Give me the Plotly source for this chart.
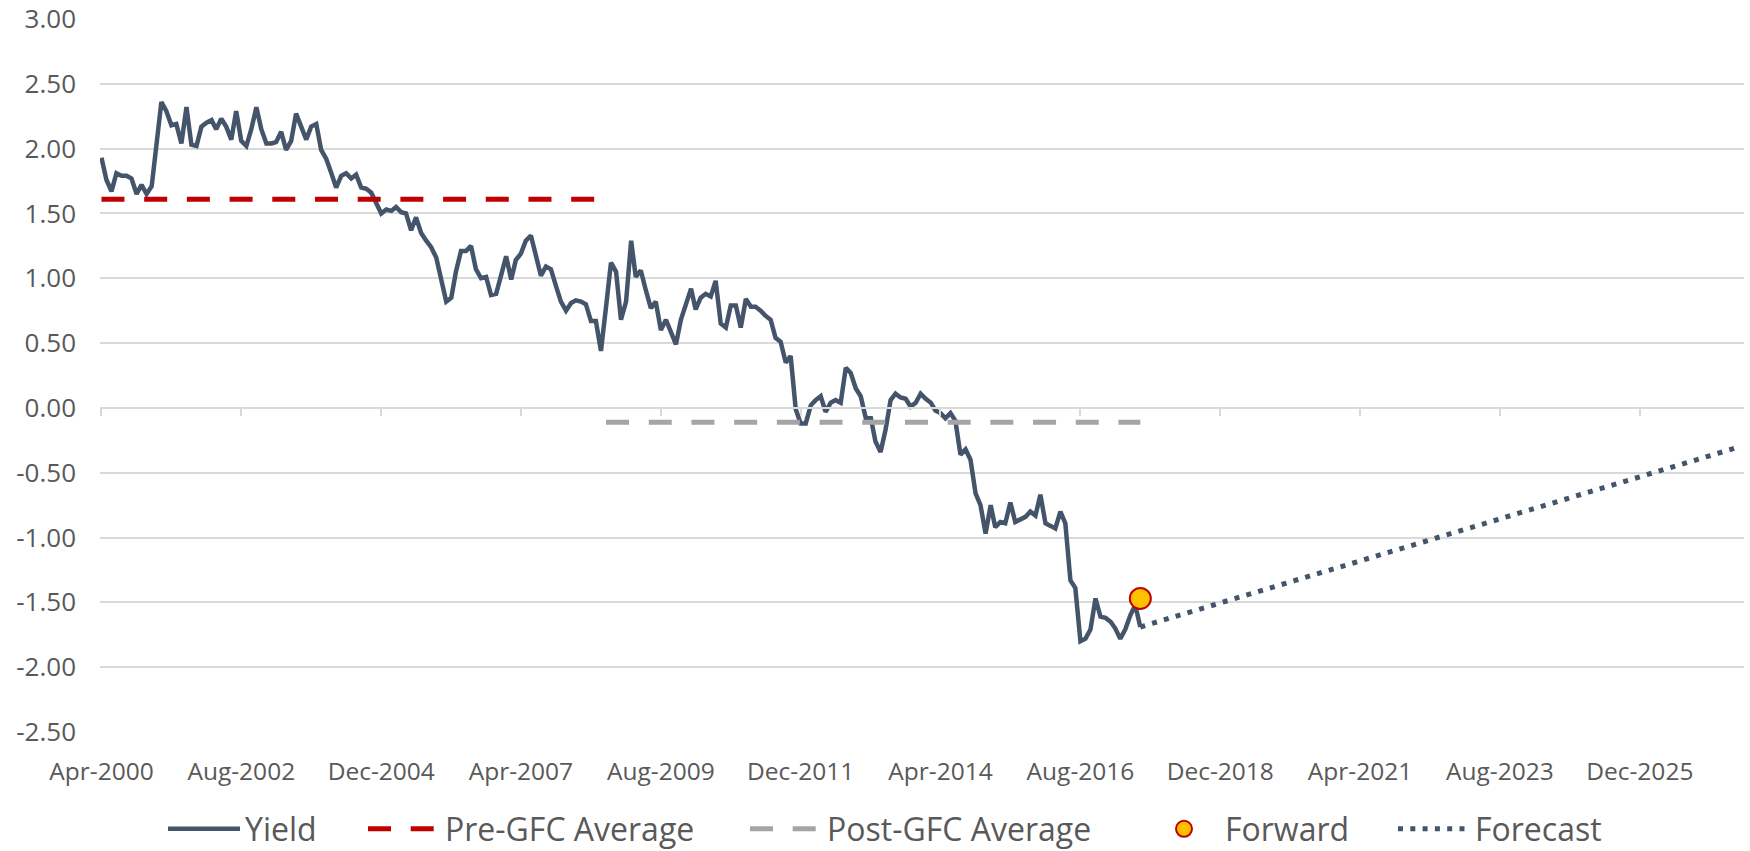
import pandas as pd
import plotly.graph_objects as go

# ---------------- data ----------------
start_month = "2000-04-01"
yield_values = [
    1.93, 1.76, 1.67, 1.81, 1.79, 1.79, 1.77, 1.65, 1.72, 1.65, 1.71, 2.02,
    2.36, 2.29, 2.18, 2.19, 2.04, 2.32, 2.03, 2.02, 2.17, 2.20, 2.22, 2.15,
    2.23, 2.17, 2.07, 2.29, 2.06, 2.02, 2.15, 2.32, 2.15, 2.04, 2.04, 2.05,
    2.13, 1.99, 2.06, 2.27, 2.17, 2.07, 2.17, 2.19, 1.99, 1.92, 1.81, 1.70,
    1.79, 1.81, 1.77, 1.80, 1.70, 1.69, 1.66, 1.58, 1.50, 1.53, 1.52, 1.55,
    1.51, 1.50, 1.37, 1.47, 1.35, 1.29, 1.24, 1.16, 1.01, 0.82, 0.85, 1.05,
    1.21, 1.21, 1.25, 1.07, 1.00, 1.01, 0.87, 0.88, 1.02, 1.17, 0.99, 1.14,
    1.19, 1.29, 1.33, 1.16, 1.02, 1.09, 1.07, 0.94, 0.82, 0.75, 0.81, 0.83,
    0.82, 0.80, 0.67, 0.67, 0.44, 0.78, 1.12, 1.05, 0.68, 0.82, 1.29, 1.01,
    1.06, 0.91, 0.77, 0.82, 0.60, 0.68, 0.58, 0.49, 0.68, 0.81, 0.92, 0.76,
    0.85, 0.88, 0.86, 0.98, 0.65, 0.62, 0.79, 0.79, 0.62, 0.84, 0.78, 0.78,
    0.75, 0.71, 0.68, 0.54, 0.51, 0.35, 0.40, -0.01, -0.12, -0.12, 0.02, 0.06,
    0.09, -0.03, 0.04, 0.06, 0.04, 0.31, 0.27, 0.15, 0.09, -0.08, -0.08, -0.26,
    -0.34, -0.17, 0.06, 0.11, 0.08, 0.07, 0.01, 0.04, 0.11, 0.07, 0.04, -0.02,
    -0.04, -0.08, -0.04, -0.10, -0.36, -0.32, -0.40, -0.66, -0.75, -0.97, -0.75, -0.92,
    -0.88, -0.89, -0.73, -0.88, -0.86, -0.84, -0.80, -0.83, -0.67, -0.89, -0.91, -0.93,
    -0.80, -0.89, -1.33, -1.39, -1.80, -1.78, -1.71, -1.47, -1.61, -1.62, -1.65, -1.70,
    -1.78, -1.71, -1.60, -1.52, -1.69,
]

pre_gfc_period = ["2000-04-01", "2008-08-01"]
pre_gfc_average = [1.61, 1.61]
post_gfc_period = ["2008-09-01", "2017-08-01"]
post_gfc_average = [-0.11, -0.11]

forward_date = ["2017-08-01"]
forward_value = [-1.47]

forecast_dates = ["2017-08-01", "2027-08-01"]
forecast_values = [-1.69, -0.30]

x_range = ["2000-03-23", "2027-08-28"]
x_tick_dates = ["2000-04-01", "2002-08-01", "2004-12-01", "2007-04-01",
                "2009-08-01", "2011-12-01", "2014-04-01", "2016-08-01",
                "2018-12-01", "2021-04-01", "2023-08-01", "2025-12-01"]
x_tick_labels = ["Apr-2000", "Aug-2002", "Dec-2004", "Apr-2007", "Aug-2009",
                 "Dec-2011", "Apr-2014", "Aug-2016", "Dec-2018", "Apr-2021",
                 "Aug-2023", "Dec-2025"]
y_ticks = [3.0, 2.5, 2.0, 1.5, 1.0, 0.5, 0.0, -0.5, -1.0, -1.5, -2.0, -2.5]
y_tick_labels = ["3.00", "2.50", "2.00", "1.50", "1.00", "0.50", "0.00",
                 "-0.50", "-1.00", "-1.50", "-2.00", "-2.50"]

yield_dates = pd.date_range(start_month, periods=len(yield_values), freq="MS")

# ---------------- styles ----------------
NAVY = "#44546A"
RED = "#C00000"
GREY = "#A5A5A5"
GOLD = "#FFC000"
GRID = "#D9D9D9"
TEXT = "#595959"
FONT = "Open Sans, sans-serif"

fig = go.Figure()
fig.add_trace(go.Scatter(x=yield_dates, y=yield_values, mode="lines", name="Yield",
                         legend="legend",
                         line=dict(color=NAVY, width=4.5)))
fig.add_trace(go.Scatter(x=pre_gfc_period, y=pre_gfc_average, mode="lines",
                         name="Pre-GFC Average", legend="legend2",
                         line=dict(color=RED, width=5, dash="23px,19.7px")))
fig.add_trace(go.Scatter(x=post_gfc_period, y=post_gfc_average, mode="lines",
                         name="Post-GFC Average", legend="legend3",
                         line=dict(color=GREY, width=5, dash="23px,19.7px")))
fig.add_trace(go.Scatter(x=forward_date, y=forward_value, mode="markers",
                         name="Forward", legend="legend4",
                         marker=dict(color=GOLD, size=21,
                                     line=dict(color=RED, width=2))))
fig.add_trace(go.Scatter(x=forecast_dates, y=forecast_values, mode="lines",
                         name="Forecast", legend="legend5",
                         line=dict(color=NAVY, width=5, dash="5px,7.3px")))
# empty trace that carries the horizontal axis line drawn at zero
fig.add_trace(go.Scatter(x=[], y=[], xaxis="x2", yaxis="y", showlegend=False,
                         hoverinfo="skip"))


def legend_at(px_left):
    return dict(orientation="h", x=(px_left - 100) / 1644, xanchor="left",
                y=-0.136, yanchor="middle", font=dict(size=32, color=TEXT),
                itemwidth=72, bgcolor="rgba(0,0,0,0)")


fig.update_layout(
    width=1750, height=851,
    margin=dict(l=100, r=6, t=19, b=119, autoexpand=False),
    paper_bgcolor="white", plot_bgcolor="white",
    font=dict(family=FONT, color=TEXT, size=24),
    showlegend=True,
    legend=legend_at(163),
    legend2=legend_at(363),
    legend3=legend_at(745),
    legend4=legend_at(1143),
    legend5=legend_at(1393),
    xaxis=dict(type="date", range=x_range, automargin=False,
               tickvals=x_tick_dates, ticktext=x_tick_labels,
               showgrid=False, zeroline=False, showline=False, ticks="",
               tickfont=dict(size=24.5, color=TEXT), ticklabelstandoff=22),
    xaxis2=dict(type="date", matches="x", overlaying="x", anchor="free",
                position=2.5 / 5.5, showticklabels=False, showgrid=False,
                zeroline=False, showline=True, linecolor=GRID, linewidth=1.5,
                ticks="outside", ticklen=7, tickcolor=GRID, tickwidth=1.5,
                tickvals=x_tick_dates, side="bottom", automargin=False),
    yaxis=dict(range=[-2.5, 3.0], tickvals=y_ticks, ticktext=y_tick_labels,
               automargin=False,
               showgrid=True, gridcolor=GRID, gridwidth=1.5, zeroline=False,
               showline=False, ticks="", tickfont=dict(size=26, color=TEXT),
               ticklabelstandoff=23),
)

fig.write_html("out.html",
               config={"displayModeBar": False},
               post_script="document.body.style.margin='0px';"
                           "document.body.style.overflow='hidden';")
